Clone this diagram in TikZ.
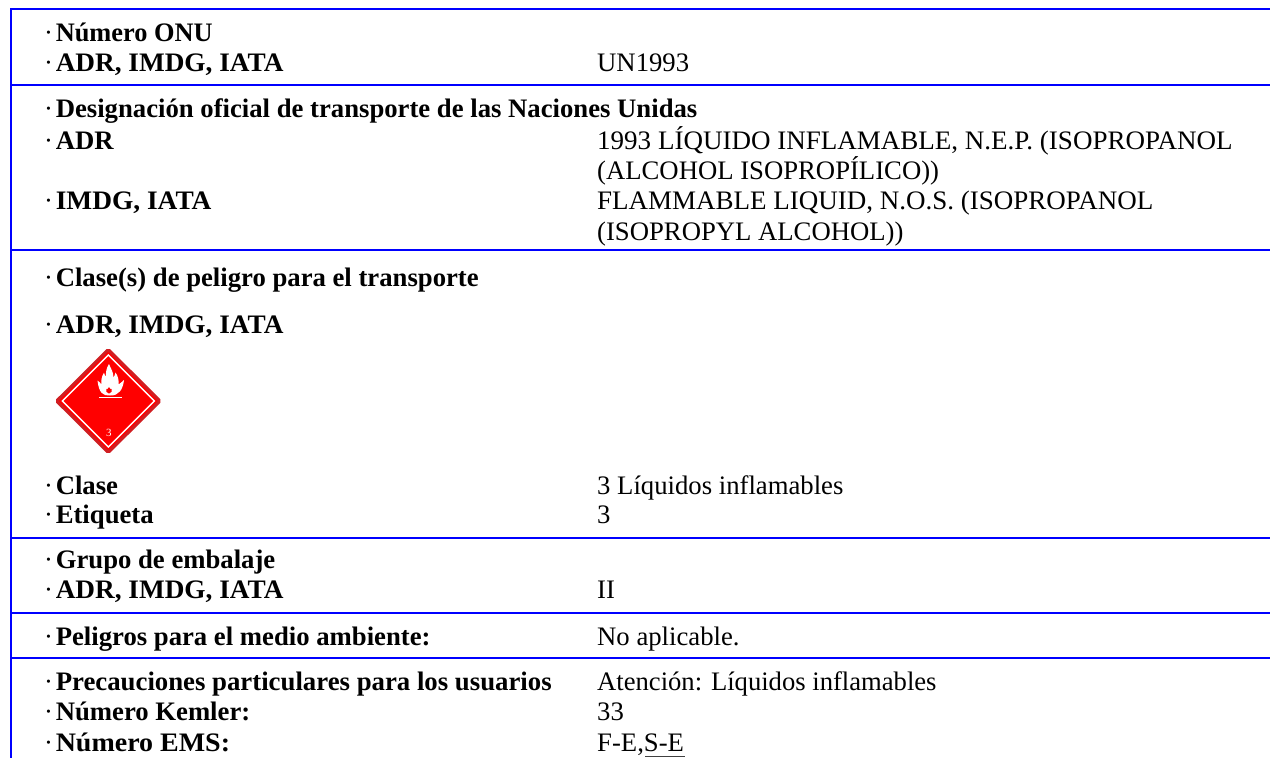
\documentclass[tikz,border=0pt]{standalone}
\usepackage{fontspec}
\setmainfont{Liberation Serif}
\definecolor{rulecol}{RGB}{0,0,255}
\definecolor{hazred}{RGB}{255,0,0}
\definecolor{hazdark}{RGB}{208,30,34}
\tikzset{
 x=1pt,y=-1pt,
 rowline/.style={draw=rulecol,line width=2pt},
 lab/.style={anchor=base west,inner sep=0pt,font=\fontsize{26.7}{30}\selectfont\bfseries},
 val/.style={anchor=base west,inner sep=0pt,font=\fontsize{26.7}{30}\selectfont}
}
\newcommand{\lb}[4][1]{\node[lab] (#2) at (44,#3) {{\normalfont\textperiodcentered}\kern2.7pt{\addfontfeature{FakeStretch=#1}#4}};}
\newcommand{\vl}[4][1]{\node[val] (#2) at (597,#3) {\addfontfeature{FakeStretch=#1}#4};}
\begin{document}
\begin{tikzpicture}
\useasboundingbox (0,0) rectangle (1270,758);
\fill[white] (0,0) rectangle (1270,758);
\draw[rowline] (11,8) -- (11,758);
\foreach \y in {9,85,250,538,613,658}{\draw[rowline] (10,\y) -- (1270,\y);}
\lb[0.987]{a1}{41}{Número ONU}
\lb[1.021]{a2}{71.5}{ADR, IMDG, IATA}
\vl{v1}{71.5}{UN1993}
\lb{b1}{117.5}{Designación oficial de transporte de las Naciones Unidas}
\lb{b2}{149.5}{ADR}
\vl[1.012]{v2}{149.5}{1993 LÍQUIDO INFLAMABLE, N.E.P. (ISOPROPANOL}
\vl{v2b}{179.5}{(ALCOHOL ISOPROPÍLICO))}
\lb[1.026]{b3}{209.5}{IMDG, IATA}
\vl[1.011]{v3}{209.5}{FLAMMABLE LIQUID, N.O.S. (ISOPROPANOL}
\vl{v3b}{240.5}{(ISOPROPYL ALCOHOL))}
\lb{c1}{286}{Clase(s) de peligro para el transporte}
\lb[1.021]{c2}{333}{ADR, IMDG, IATA}
% placard
\fill[hazred,draw=hazdark,line width=3pt,rounded corners=1.5pt] (108.3,349.5) -- (160,401) -- (108.3,452.5) -- (56.6,401) -- cycle;
\draw[white,line width=1.4pt,line join=miter] (108.3,355) -- (154.3,401) -- (108.3,447) -- (62.3,401) -- cycle;
\fill[white] (110,395.5) .. controls (103,396) and (99,393) .. (97.5,380.5)
  .. controls (99.5,382) and (100.5,383) .. (101.5,384.5)
  .. controls (101,380) and (101.5,377) .. (104,372.5)
  .. controls (104.5,374.5) and (105,376) .. (106,377)
  .. controls (105.5,372) and (106.5,368) .. (109,364)
  .. controls (110.5,368) and (113.5,372) .. (113.5,377.5)
  .. controls (114.5,376) and (115,374.5) .. (115.5,372.5)
  .. controls (118,376) and (119,380) .. (118.5,384.5)
  .. controls (120.5,383) and (122,382) .. (124,380)
  .. controls (123,389) and (119,396) .. (110,395.5) -- cycle;
\fill[hazred] (109,393.5) .. controls (106.5,393) and (105.5,391) .. (106.5,389)
  .. controls (107.5,389.5) and (108,389) .. (109,387)
  .. controls (110,389) and (110.5,389.5) .. (111.5,389)
  .. controls (112.5,391) and (111.5,393) .. (109,393.5) -- cycle;
\draw[white,line width=1.2pt] (99,397.7) -- (122,397.7);
\node[inner sep=0pt,text=white,font=\fontsize{11}{11}\selectfont] (three) at (108.8,433) {3};
%
\lb{d1}{494.5}{Clase}
\vl{v4}{494.5}{3 Líquidos inflamables}
\lb{d2}{523.5}{Etiqueta}
\vl{v5}{523.5}{3}
\lb{e1}{568.5}{Grupo de embalaje}
\lb[1.021]{e2}{598.5}{ADR, IMDG, IATA}
\vl{v6}{598.5}{II}
\lb{f1}{645.5}{Peligros para el medio ambiente:}
\vl{v7}{645.5}{No aplicable.}
\lb[1.003]{g1}{690.5}{Precauciones particulares para los usuarios}
\vl[0.997]{v8}{690.5}{Atención: Líquidos inflamables}
\lb{g2}{720.5}{Número Kemler:}
\vl{v9}{720.5}{33}
\lb[1.048]{g3}{751}{Número EMS:}
\vl{v10}{751}{F-E,S-E}
\draw[black!75,line width=1pt] (645,756.5) -- (685,756.5);
\end{tikzpicture}
\end{document}
